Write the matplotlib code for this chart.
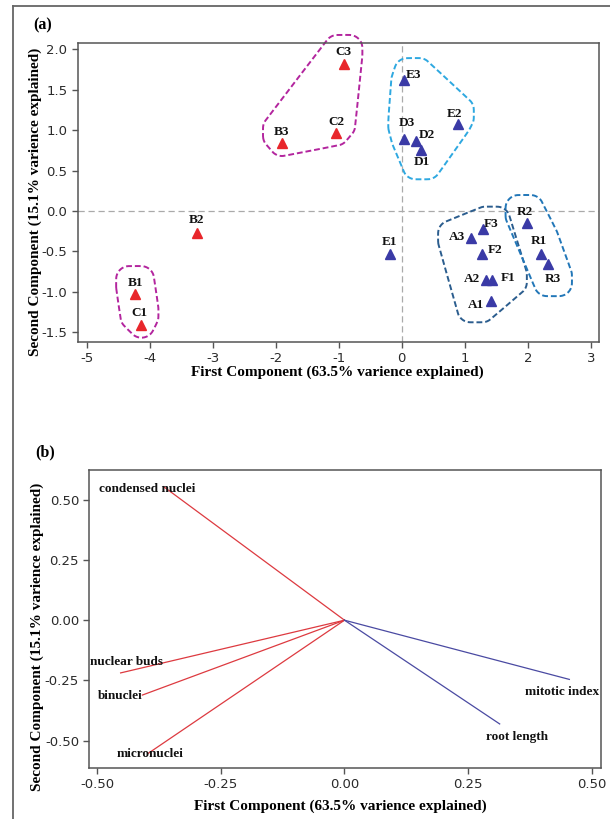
import numpy as np
import matplotlib.pyplot as plt
from matplotlib.lines import Line2D

# PCA scores (panel a)
samples = ["C3", "C2", "B3", "E3", "E2", "D3", "D2", "D1", "B2", "E1", "B1",
           "C1", "F3", "A3", "F2", "A2", "F1", "A1", "R2", "R1", "R3"]
pc1 = [-0.91, -1.04, -1.90, 0.04, 0.89, 0.04, 0.23, 0.30, -3.25, -0.19, -4.23,
       -4.13, 1.29, 1.10, 1.27, 1.33, 1.43, 1.42, 1.98, 2.21, 2.32]
pc2 = [1.82, 0.97, 0.84, 1.62, 1.08, 0.89, 0.86, 0.75, -0.27, -0.54, -1.03,
       -1.41, -0.22, -0.34, -0.54, -0.86, -0.86, -1.12, -0.15, -0.53, -0.66]
red_samples = ["B1", "B2", "B3", "C1", "C2", "C3"]
groups = [["C3", "C2", "B3"], ["E3", "E2", "D3", "D2", "D1"],
          ["F3", "A3", "F2", "A2", "F1", "A1"], ["R2", "R1", "R3"], ["B1", "C1"]]

# loadings (panel b)
variables = ["condensed nuclei", "nuclear buds", "binuclei", "micronuclei",
             "mitotic index", "root length"]
load1 = [-0.366, -0.453, -0.409, -0.397, 0.455, 0.314]
load2 = [0.555, -0.219, -0.311, -0.553, -0.246, -0.431]
load_red = ["condensed nuclei", "nuclear buds", "binuclei", "micronuclei"]

# label offsets in pixels
score_off = {"C3": (-1, 12), "C2": (0, 11), "B3": (0, 11), "E3": (9, 5), "E2": (-3, 10),
             "D3": (3, 16), "D2": (11, 6), "D1": (1, -12), "B2": (0, 13), "E1": (0, 12),
             "B1": (0, 11), "C1": (-2, 12), "F3": (8, 5), "A3": (-14, 1), "F2": (13, 4),
             "A2": (-14, 1), "F1": (16, 2), "A1": (-15, -4), "R2": (-2, 11), "R1": (-2, 13),
             "R3": (5, -15)}
load_off = {"condensed nuclei": (-16, -2), "nuclear buds": (6, 11), "binuclei": (-22, -1),
            "micronuclei": (2, -1), "mitotic index": (-7, -13), "root length": (17, -13)}
group_colors = ["#b3259e", "#2ea8e0", "#2b5d8e", "#2277b8", "#b3259e"]

plt.rcParams['axes.unicode_minus'] = False
serif = 'Liberation Serif'
red = "#e8262b"
blue = "#3a3aa6"


def hull(p):
    p = sorted(map(tuple, p))
    def cross(o, a, b):
        return (a[0] - o[0]) * (b[1] - o[1]) - (a[1] - o[1]) * (b[0] - o[0])
    lower, upper = [], []
    for q in p:
        while len(lower) >= 2 and cross(lower[-2], lower[-1], q) <= 0:
            lower.pop()
        lower.append(q)
    for q in reversed(p):
        while len(upper) >= 2 and cross(upper[-2], upper[-1], q) <= 0:
            upper.pop()
        upper.append(q)
    return np.array(lower[:-1] + upper[:-1])


def smooth(h, n=4):
    # chaikin corner cutting on a closed polygon
    for _ in range(n):
        nxt = np.roll(h, -1, axis=0)
        h = np.column_stack([0.75 * h + 0.25 * nxt, 0.25 * h + 0.75 * nxt]).reshape(-1, 2)
    return np.vstack([h, h[:1]])


def style_axes(ax):
    for s in ax.spines.values():
        s.set_color("#555555")
        s.set_linewidth(1.1)
    ax.tick_params(direction='out', length=4, width=1, color="#555555",
                   labelsize=9.5, labelcolor="#2a2a2a")


fig = plt.figure(figsize=(6.1, 8.19), dpi=100)

# outer frame
fig.add_artist(Line2D([12.7 / 610, 12.7 / 610], [0, 1 - 5.7 / 819], color="#666666", lw=1.3))
fig.add_artist(Line2D([12.7 / 610, 1], [1 - 5.7 / 819, 1 - 5.7 / 819], color="#666666", lw=1.3))

# ---- panel (a)
ax = fig.add_axes([0.1275, 0.5828, 0.8545, 0.3643])
style_axes(ax)
ax.set_xlim(-5.14, 3.13)
ax.set_ylim(-1.62, 2.075)
ax.set_xticks(range(-5, 4))
ax.set_yticks(np.arange(-1.5, 2.01, 0.5))
ax.yaxis.set_major_formatter(plt.FormatStrFormatter('%.1f'))
ax.axhline(0, color="#aaaaaa", lw=0.9, ls=(0, (5, 3)), zorder=1)
ax.axvline(0, color="#aaaaaa", lw=0.9, ls=(0, (5, 3)), zorder=1)

for name, x, y in zip(samples, pc1, pc2):
    c = red if name in red_samples else blue
    ax.plot(x, y, marker='^', ms=7.5, color=c, ls='none', zorder=3)
    ax.annotate(name, (x, y), xytext=score_off[name], textcoords='offset pixels',
                ha='center', va='center', fontsize=9.5, fontweight='bold',
                family=serif, color="#111111", zorder=4)

# dashed contours around groups, built from markers and their labels
idx = {n: i for i, n in enumerate(samples)}
ang = np.linspace(0, 2 * np.pi, 40, endpoint=False)
circ = np.column_stack([np.cos(ang), np.sin(ang)])
for members, col in zip(groups, group_colors):
    pts = []
    for n in members:
        d = ax.transData.transform((pc1[idx[n]], pc2[idx[n]]))
        pts.append(d)
        lx, ly = d + np.array(score_off[n])
        hw = 3 * len(n)
        pts += [(lx - hw, ly - 4), (lx + hw, ly - 4), (lx - hw, ly + 4), (lx + hw, ly + 4)]
    pts = np.array(pts)
    ring = (pts[:, None, :] + 13 * circ[None]).reshape(-1, 2)
    h = ax.transData.inverted().transform(smooth(hull(ring)))
    ax.plot(h[:, 0], h[:, 1], color=col, lw=1.4, ls=(0, (3, 1.5)), zorder=2, clip_on=False)

ax.set_xlabel("First Component (63.5% varience explained)", fontsize=11,
              fontweight='bold', family=serif)
ax.set_ylabel("Second Component (15.1% varience explained)", fontsize=11,
              fontweight='bold', family=serif)
ax.xaxis.set_label_coords(0.497, -0.08)
ax.yaxis.set_label_coords(-0.069, 0.47)
fig.text(33 / 610, 1 - 25 / 819, "(a)", fontsize=11.5, fontweight='bold', family=serif,
         va='center')

# ---- panel (b)
bx = fig.add_axes([0.1467, 0.0623, 0.8385, 0.3638])
style_axes(bx)
bx.set_xlim(-0.516, 0.519)
bx.set_ylim(-0.614, 0.624)
bx.set_xticks(np.arange(-0.5, 0.51, 0.25))
bx.set_yticks(np.arange(-0.5, 0.51, 0.25))
bx.xaxis.set_major_formatter(plt.FormatStrFormatter('%.2f'))
bx.yaxis.set_major_formatter(plt.FormatStrFormatter('%.2f'))

for name, x, y in zip(variables, load1, load2):
    c = "#dd3a40" if name in load_red else "#4a4aa2"
    bx.plot([0, x], [0, y], color=c, lw=0.9)
    bx.annotate(name, (x, y), xytext=load_off[name], textcoords='offset pixels',
                ha='center', va='center', fontsize=9.5, fontweight='bold',
                family=serif, color="#111111")

bx.set_xlabel("First Component (63.5% varience explained)", fontsize=11,
              fontweight='bold', family=serif)
bx.set_ylabel("Second Component (15.1% varience explained)", fontsize=11,
              fontweight='bold', family=serif)
bx.xaxis.set_label_coords(0.49, -0.107)
bx.yaxis.set_label_coords(-0.088, 0.44)
fig.text(35 / 610, 1 - 452 / 819, "(b)", fontsize=11.5, fontweight='bold', family=serif,
         va='center')

fig.savefig("out.png", dpi=100)
